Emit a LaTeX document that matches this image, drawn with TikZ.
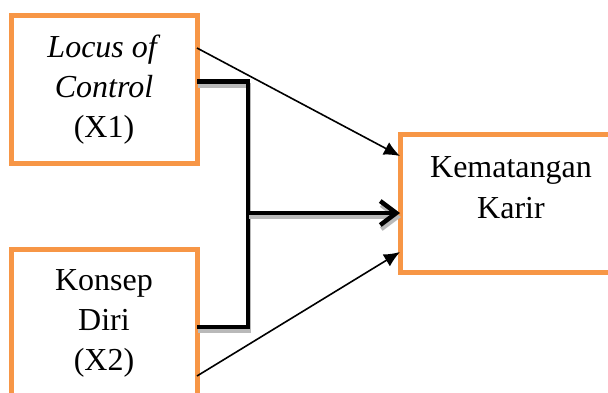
\documentclass[tikz,border=0pt]{standalone}
\usepackage{fontspec}
\setmainfont{Liberation Serif}
\usetikzlibrary{arrows.meta, positioning}
\definecolor{oranye}{HTML}{F79646}

\begin{document}
\begin{tikzpicture}[x=1pt, y=-1pt,
  kotak/.style={draw=oranye, line width=5pt, fill=white, outer sep=0pt, minimum width=186pt, minimum height=148pt, align=center, font=\rmfamily\fontsize{32}{40}\selectfont},
  teks/.style={inner sep=0pt, align=center, font=\rmfamily\fontsize{32}{41}\selectfont},
  panah/.style={line width=1.6pt, -{Latex[length=16pt, width=14pt]}},
  tebal/.style={line width=4.5pt},
  bayang/.style={draw=gray!55, line width=4.5pt, transform canvas={xshift=1pt, yshift=-4pt}}]

\useasboundingbox (0,0) rectangle (608,392);

\node (locus) [kotak] at (104,89.5) {\textit{Locus of}\\\textit{Control}\\(X1)};
\node (diri) [kotak] at (104,323) {Konsep\\Diri\\(X2)};
\node (karir) [kotak, minimum width=222pt, minimum height=138pt] at (511,203) {};
\node (karirteks) [teks, below=22pt of karir.north] {Kematangan\\Karir};

\coordinate (simpang) at (248,213);

\draw [panah] ([yshift=41.5pt]locus.east) -- ([yshift=47pt]karir.west);
\draw [panah] ([yshift=-53pt]diri.east) -- ([yshift=-49pt]karir.west);

\draw [bayang] ([yshift=8pt]locus.east) -| (simpang) |- ([yshift=-4pt]diri.east);
\draw [tebal] ([yshift=8pt]locus.east) -| (simpang) |- ([yshift=-4pt]diri.east);
\draw [bayang, -{Straight Barb[length=16pt, width=24pt]}] (simpang) -- ([yshift=-10pt]karir.west);
\draw [tebal, -{Straight Barb[length=16pt, width=24pt]}] (simpang) -- ([yshift=-10pt]karir.west);

\end{tikzpicture}
\end{document}
